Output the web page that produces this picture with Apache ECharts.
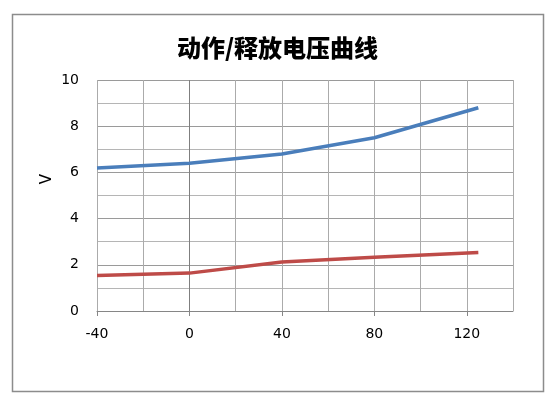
<!DOCTYPE html>
<html>
<head>
<meta charset="utf-8">
<script src="https://cdn.jsdelivr.net/npm/echarts@6/dist/echarts.min.js"></script>
<style>html,body{margin:0;padding:0;background:#fff;}#c{width:555px;height:399px;}</style>
</head>
<body>
<div id="c"></div>
<script>
const titleText = '动作/释放电压曲线';
const yName = 'V';
const temps = [-40, 0, 40, 80, 125];
const operateV = [6.19, 6.40, 6.80, 7.50, 8.80];
const releaseV = [1.54, 1.64, 2.12, 2.33, 2.53];
const xTickLabels = [-40, 0, 40, 80, 120];

const chart = echarts.init(document.getElementById('c'), null, {renderer: 'canvas'});
const xSplitColors = ['#ababab','#ababab','#7f7f7f','#ababab','#ababab','#ababab','#ababab','#ababab','#ababab','#ababab'];
chart.setOption({
  animation: false,
  backgroundColor: '#fff',
  title: {
    text: titleText, left: 'center', top: 31,
    textStyle: {fontFamily: 'Noto Sans CJK SC', fontWeight: 900, fontSize: 24, color: '#000'}
  },
  grid: {left: 97, right: 42, top: 80, bottom: 88},
  xAxis: [{
    type: 'value', min: -40, max: 140, interval: 20,
    axisLine: {show: true, onZero: false, lineStyle: {color: '#868686', width: 1}},
    axisTick: {show: true, length: 5, inside: false, customValues: xTickLabels, lineStyle: {color: '#868686'}},
    axisLabel: {customValues: xTickLabels, color: '#000', fontSize: 14, fontFamily: 'DejaVu Sans', margin: 16},
    splitLine: {show: false}
  }, {
    type: 'value', min: -40, max: 140, interval: 20, position: 'bottom',
    axisLine: {show: false}, axisTick: {show: false}, axisLabel: {show: false},
    splitLine: {show: true, lineStyle: {color: xSplitColors, width: 1}}
  }],
  yAxis: {
    type: 'value', min: 0, max: 10, interval: 2,
    axisLine: {show: false},
    axisTick: {show: false},
    axisLabel: {color: '#000', fontSize: 14, fontFamily: 'DejaVu Sans', margin: 18},
    splitLine: {show: true, lineStyle: {color: '#9a9a9a', width: 1}},
    minorTick: {show: false, splitNumber: 2},
    minorSplitLine: {show: true, lineStyle: {color: '#b5b5b5', width: 1}}
  },
  series: [
    {type: 'line', data: temps.map((t, i) => [t, operateV[i]]), showSymbol: false, symbol: 'none',
     lineStyle: {color: '#4a7ebb', width: 3.5}, itemStyle: {color: '#4a7ebb'}},
    {type: 'line', data: temps.map((t, i) => [t, releaseV[i]]), showSymbol: false, symbol: 'none',
     lineStyle: {color: '#be4b48', width: 3.5}, itemStyle: {color: '#be4b48'}}
  ],
  graphic: [
    {type: 'rect', shape: {x: 12.5, y: 14.5, width: 531, height: 377},
     style: {fill: 'none', stroke: '#8c8c8c', lineWidth: 1.5}, z: -1},
    {type: 'text', x: 47, y: 179, rotation: Math.PI / 2, originX: 0, originY: 0,
     style: {text: yName, fontSize: 15, fontFamily: 'DejaVu Sans', fill: '#000', align: 'center', verticalAlign: 'middle'}}
  ]
});
</script>
</body>
</html>
